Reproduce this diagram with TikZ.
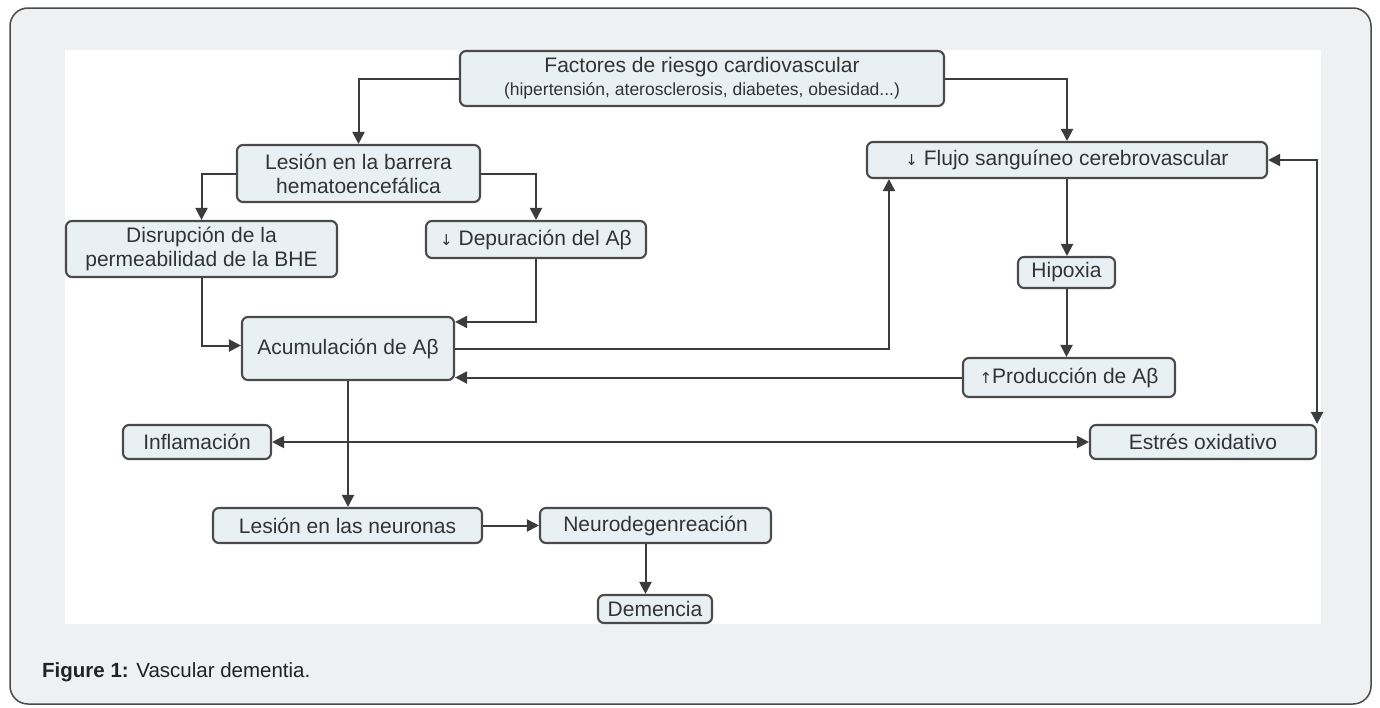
\documentclass[tikz,border=0pt]{standalone}
\usepackage{fontspec}
\setmainfont{Liberation Sans}
\newfontfamily\arrfont{DejaVu Sans}
\usetikzlibrary{arrows.meta}
\definecolor{framebg}{HTML}{EFF0F2}
\definecolor{framedraw}{HTML}{4A4A4A}
\definecolor{boxfill}{HTML}{E8F0F4}
\definecolor{boxline}{HTML}{4A4A4A}
\definecolor{lnc}{HTML}{3C3C3C}
\definecolor{txt}{HTML}{333333}
\definecolor{captxt}{HTML}{222222}
\newcommand{\dnarr}{{\arrfont\fontsize{15}{15}\selectfont ↓}}
\newcommand{\uparr}{{\arrfont\fontsize{15}{15}\selectfont ↑}}
\begin{document}
\begin{tikzpicture}[x=1pt,y=-1pt,
  box/.style={draw=boxline, fill=boxfill, rounded corners=6pt, line width=2.1pt,
    inner sep=0pt, align=center, text=txt, font=\fontsize{21}{24}\selectfont},
  arr/.style={draw=lnc, line width=2pt, -{Triangle[length=12pt,width=12pt]}},
  darr/.style={draw=lnc, line width=2pt, {Triangle[length=12pt,width=12pt]}-{Triangle[length=12pt,width=12pt]}}
]
\useasboundingbox (0,0) rectangle (1380,707);
\fill[white] (0,0) rectangle (1380,707);
\draw[fill=framebg, draw=framedraw, line width=1.5pt, rounded corners=18pt] (10,8) rectangle (1371,704);
\fill[white] (65,50) rectangle (1321,624);

\node[box, minimum width=484pt, minimum height=55pt] (fact) at (702,78.5)
  {Factores de riesgo cardiovascular\\[-1pt]{\fontsize{17.5}{20}\selectfont (hipertensión, aterosclerosis, diabetes, obesidad...)}};
\node[box, minimum width=243pt, minimum height=57pt] (barr) at (358.5,173.5)
  {Lesión en la barrera\\hematoencefálica};
\node[box, minimum width=271pt, minimum height=56pt] (disr) at (201.5,249)
  {Disrupción de la\\permeabilidad de la BHE};
\node[box, minimum width=220pt, minimum height=37pt] (depu) at (536,239.5)
  {\dnarr\ Depuración del Aβ};
\node[box, minimum width=212pt, minimum height=63pt] (acum) at (348,348.5)
  {Acumulación de Aβ};
\node[box, minimum width=400pt, minimum height=36pt] (fluj) at (1067,160)
  {\dnarr\ Flujo sanguíneo cerebrovascular};
\node[box, minimum width=97pt, minimum height=31pt] (hipo) at (1066.5,272.5)
  {Hipoxia};
\node[box, minimum width=212pt, minimum height=39pt] (prod) at (1069,377.5)
  {\uparr Producción de Aβ};
\node[box, minimum width=148pt, minimum height=34pt] (infl) at (197,442)
  {Inflamación};
\node[box, minimum width=226pt, minimum height=34pt] (estr) at (1203,442)
  {Estrés oxidativo};
\node[box, minimum width=269pt, minimum height=35pt] (neur) at (347.5,525.5)
  {Lesión en las neuronas};
\node[box, minimum width=231pt, minimum height=35pt] (ndeg) at (655.5,525.5)
  {Neurodegenreación};
\node[box, minimum width=114pt, minimum height=28pt] (deme) at (655,609)
  {Demencia};

\node[anchor=base west, inner sep=0pt, text=captxt, font=\fontsize{20.5}{24}\selectfont] (cap) at (42,677)
  {\textbf{Figure 1:} Vascular dementia.};

\draw[arr] (fact.west) -| (barr.north);
\draw[arr] (fact.east) -| (fluj.north);
\draw[arr] (barr.west) -| (disr.north);
\draw[arr] (barr.east) -| (depu.north);
\draw[arr] (disr.south) |- ([yshift=3pt]acum.west);
\draw[arr] (depu.south) |- ([yshift=-6pt]acum.north east);
\draw[arr] (acum.east) -| ([xshift=23pt]fluj.south west);
\draw[arr] (prod.west) -- (acum.east |- prod.west);
\draw[arr] (fluj.south) -- (fluj.south |- hipo.north);
\draw[arr] (hipo.south) -- (hipo.south |- prod.north);
\draw[darr] (fluj.east) -| (estr.north east);
\draw[darr] (infl.east) -- (estr.west);
\draw[arr] (acum.south) -- (acum.south |- neur.north);
\draw[arr] (neur.east) -- (ndeg.west);
\draw[arr] ([xshift=-10pt]ndeg.south) -- ([xshift=-10pt]ndeg.south |- deme.north);
\end{tikzpicture}
\end{document}
